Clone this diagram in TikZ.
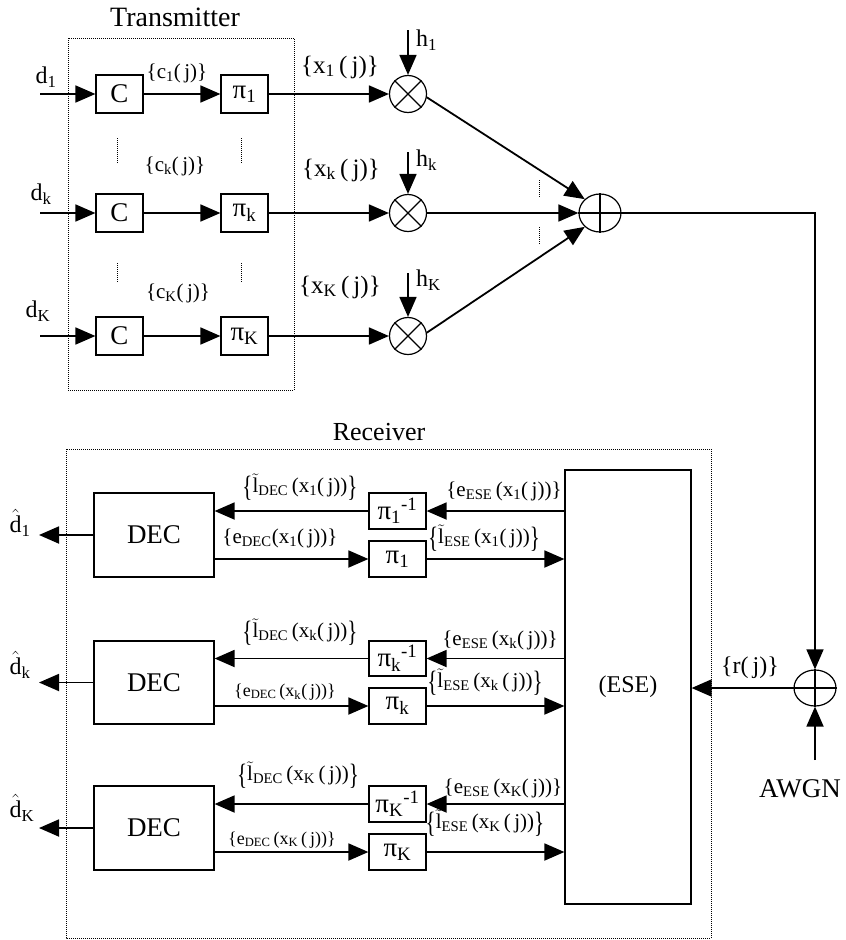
\documentclass[tikz,border=0pt]{standalone}
\usepackage{fontspec}
\setmainfont{Liberation Serif}
\usepackage{amsmath}
\usetikzlibrary{arrows.meta,shapes.geometric,calc}
\newcommand{\fsz}[1]{\fontsize{#1}{#1}\selectfont}
\newcommand{\tl}{\ensuremath{\tilde{\text{l}}}}
\newcommand{\hd}{\ensuremath{\hat{\text{d}}}}
\newcommand{\bbr}[1]{\raisebox{-0.17em}{\scalebox{1}[1.4]{\{}}#1\raisebox{-0.17em}{\scalebox{1}[1.4]{\}}}}
\tikzset{
  blk/.style 2 args={draw,line width=1.2pt,inner sep=0pt,minimum width=#1,minimum height=#2,font=\fsz{27}},
  arr/.style={line width=1.8pt,-{Triangle[length=20pt,width=17pt]}},
  mult/.style={circle,draw,line width=1.2pt,minimum size=37pt,inner sep=0pt},
  summ/.style={ellipse,draw,line width=1.2pt,minimum width=42pt,minimum height=38pt,inner sep=0pt},
  dotbox/.style={line width=1pt,dash pattern=on 1pt off 1pt},
  dotsv/.style={line width=0.8pt,dash pattern=on 1pt off 1pt},
  lbl/.style={inner sep=0pt,font=\fsz{#1}},
  lbl/.default=21
}
\begin{document}
\begin{tikzpicture}[x=1pt,y=-1pt]
\useasboundingbox (0,0) rectangle (846,940);
% ---------------- Transmitter ----------------
\draw[dotbox] (68,38) rectangle (294,390);
\node[lbl=28] (ttx) at (175,17) {Transmitter};
% boxes
\node[blk={47pt}{38pt}] (C1) at (119.5,94) {C};
\node[blk={47pt}{38pt}] (P1) at (244.5,94) {π\textsubscript{1}};
\node[blk={47pt}{38pt}] (Ck) at (119.5,213) {C};
\node[blk={47pt}{38pt}] (Pk) at (244.5,213) {π\textsubscript{k}};
\node[blk={47pt}{38pt}] (CK) at (119.5,336) {C};
\node[blk={47pt}{38pt}] (PK) at (244.5,336) {π\textsubscript{K}};
% multipliers
\node[mult] (M1) at (408,94) {};
\node[mult] (Mk) at (408,213) {};
\node[mult] (MK) at (408,336) {};
\foreach \m in {M1,Mk,MK}{
  \draw[line width=1.1pt] (\m.north east) -- (\m.south west) (\m.north west) -- (\m.south east);
}
% summer
\node[summ] (S) at (600,213) {};
\draw[line width=1.1pt] (S.north) -- (S.south) (S.west) -- (S.east);
% inputs
\coordinate (d1in) at (40,94);
\coordinate (dkin) at (40,213);
\coordinate (dKin) at (40,336);
\coordinate (h1top) at (408,30);
\coordinate (hktop) at (408,152);
\coordinate (hKtop) at (408,273);
\draw[arr] (d1in) -- (C1.west);
\draw[arr] (C1.east) -- (P1.west);
\draw[arr] (P1.east) -- (M1.west);
\draw[arr] (dkin) -- (Ck.west);
\draw[arr] (Ck.east) -- (Pk.west);
\draw[arr] (Pk.east) -- (Mk.west);
\draw[arr] (dKin) -- (CK.west);
\draw[arr] (CK.east) -- (PK.west);
\draw[arr] (PK.east) -- (MK.west);
\draw[arr] (h1top) -- (M1.north);
\draw[arr] (hktop) -- (Mk.north);
\draw[arr] (hKtop) -- (MK.north);
\draw[arr] (M1.-10) -- (S.north west);
\draw[arr] (Mk.east) -- (S.west);
\draw[arr] (MK.10) -- (S.south west);
% dots
\draw[dotsv] (117,138) -- (117,163) (241,138) -- (241,163);
\draw[dotsv] (117,263) -- (117,283) (241,263) -- (241,283);
\draw[dotsv] (539,180) -- (539,198) (539,227) -- (539,245);
% labels
\node[lbl=24] (ld1) at (46,77) {d\textsubscript{1}};
\node[lbl=24] (ldk) at (41,194) {d\textsubscript{k}};
\node[lbl=24] (ldK) at (38,311) {d\textsubscript{K}};
\node[lbl=21] (lc1) at (177,73) {\{c\textsubscript{1}(\,j)\}};
\node[lbl=21] (lck) at (175,166) {\{c\textsubscript{k}(\,j)\}};
\node[lbl=21] (lcK) at (178,293) {\{c\textsubscript{K}(\,j)\}};
\node[lbl=25] (lx1) at (340,67) {\{x\textsubscript{1}\,(\,j)\}};
\node[lbl=25] (lxk) at (341,170) {\{x\textsubscript{k}\,(\,j)\}};
\node[lbl=25] (lxK) at (340,287) {\{x\textsubscript{K}\,(\,j)\}};
\node[lbl=24,anchor=west] (lh1) at (416,40) {h\textsubscript{1}};
\node[lbl=24,anchor=west] (lhk) at (416,160) {h\textsubscript{k}};
\node[lbl=24,anchor=west] (lhK) at (416,280) {h\textsubscript{K}};
% ---------------- channel ----------------
\node[summ,minimum height=36pt] (A) at (815,688) {};
\draw[line width=1.1pt] (A.north) -- (A.south) (A.west) -- (A.east);
\coordinate (awgnin) at (815,760);
\node[lbl=27] (lawgn) at (800,789) {AWGN};
\draw[arr,line width=1.4pt] (S.east) -| (A.north);
\draw[arr] (awgnin) -- (A.south);
% ---------------- Receiver ----------------
\draw[dotbox] (66,449) rectangle (711,938);
\node[lbl=26] (trx) at (379,432) {Receiver};
\node[draw,line width=1.2pt,minimum width=126pt,minimum height=434pt,inner sep=0pt,font=\fsz{24}] (ESE) at (628,687) {(ESE)};
\draw[arr] (A.west) -- (A.west -| ESE.east);
\node[lbl=24] (lr) at (750,668) {\{r(\,j)\}};
% row 1
\node[blk={120pt}{84pt}] (DEC1) at (154,535) {DEC};
\node[blk={57pt}{36pt}] (Pi1) at (397.5,511) {π\textsubscript{1}\textsuperscript{-1}};
\node[blk={57pt}{36pt}] (Pf1) at (397.5,559) {π\textsubscript{1}};
\coordinate (o1) at (39,535);
\draw[arr] (ESE.west |- Pi1) -- (Pi1.east);
\draw[arr] (Pi1.west) -- (Pi1 -| DEC1.east);
\draw[arr] (Pf1 -| DEC1.east) -- (Pf1.west);
\draw[arr] (Pf1.east) -- (Pf1 -| ESE.west);
\draw[arr] (DEC1.west) -- (o1);
% row k
\node[blk={120pt}{83pt}] (DECk) at (154,682.5) {DEC};
\node[blk={57pt}{35pt}] (Pik) at (397.5,658.5) {π\textsubscript{k}\textsuperscript{-1}};
\node[blk={57pt}{36pt}] (Pfk) at (397.5,706) {π\textsubscript{k}};
\coordinate (ok) at (39,682.5);
\draw[arr] (ESE.west |- Pik) -- (Pik.east);
\draw[arr] (Pik.west) -- (Pik -| DECk.east);
\draw[arr] (Pfk -| DECk.east) -- (Pfk.west);
\draw[arr] (Pfk.east) -- (Pfk -| ESE.west);
\draw[arr] (DECk.west) -- (ok);
% row K
\node[blk={120pt}{84pt}] (DECK) at (154,828) {DEC};
\node[blk={57pt}{36pt}] (PiK) at (397.5,804) {π\textsubscript{K}\textsuperscript{-1}};
\node[blk={57pt}{36pt}] (PfK) at (397.5,852) {π\textsubscript{K}};
\coordinate (oK) at (39,828);
\draw[arr] (ESE.west |- PiK) -- (PiK.east);
\draw[arr] (PiK.west) -- (PiK -| DECK.east);
\draw[arr] (PfK -| DECK.east) -- (PfK.west);
\draw[arr] (PfK.east) -- (PfK -| ESE.west);
\draw[arr] (DECK.west) -- (oK);
% receiver labels
\node[lbl=24] (lo1) at (20,523) {\hd\textsubscript{1}};
\node[lbl=24] (lok) at (20,665) {\hd\textsubscript{k}};
\node[lbl=24] (loK) at (22,808) {\hd\textsubscript{K}};
\node[lbl] (la1) at (300,487) {\bbr{\tl\textsubscript{DEC}\,(x\textsubscript{1}(\,j))}};
\node[lbl] (lb1) at (504,491) {\{e\textsubscript{ESE}\,(x\textsubscript{1}(\,j))\}};
\node[lbl] (lc1r) at (280,538) {\{e\textsubscript{DEC}(x\textsubscript{1}(\,j))\}};
\node[lbl] (ld1r) at (484,538) {\bbr{\tl\textsubscript{ESE}\,(x\textsubscript{1}(\,j))}};
\node[lbl] (lak) at (300,632) {\bbr{\tl\textsubscript{DEC}\,(x\textsubscript{k}(\,j))}};
\node[lbl] (lbk) at (500,640) {\{e\textsubscript{ESE}\,(x\textsubscript{k}(\,j))\}};
\node[lbl=18] (lckr) at (285,692) {\{e\textsubscript{DEC}\,(x\textsubscript{k}(\,j))\}};
\node[lbl] (ldkr) at (485,682) {\bbr{\tl\textsubscript{ESE}\,(x\textsubscript{k}\,(\,j))}};
\node[lbl] (laK) at (298,775) {\bbr{\tl\textsubscript{DEC}\,(x\textsubscript{K}\,(\,j))}};
\node[lbl] (lbK) at (503,788) {\{e\textsubscript{ESE}\,(x\textsubscript{K}(\,j))\}};
\node[lbl=18] (lcKr) at (282,840) {\{e\textsubscript{DEC}\,(x\textsubscript{K}\,(\,j))\}};
\node[lbl] (ldKr) at (485,823) {\bbr{\tl\textsubscript{ESE}\,(x\textsubscript{K}\,(\,j))}};
\end{tikzpicture}
\end{document}
